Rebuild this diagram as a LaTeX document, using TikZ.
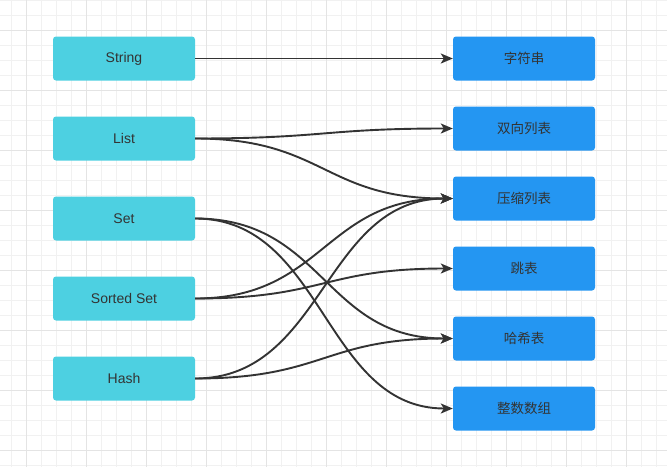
\documentclass[tikz,border=0pt]{standalone}
\usepackage{fontspec}
\setmainfont{Liberation Sans}
\newfontfamily\cjk{Noto Sans CJK SC}
\usetikzlibrary{arrows.meta}
\definecolor{gridminor}{HTML}{F1F1F1}
\definecolor{gridmajor}{HTML}{E4E4E4}
\definecolor{leftfill}{HTML}{4DD0E1}
\definecolor{rightfill}{HTML}{2496F2}
\definecolor{ink}{HTML}{333333}
\tikzset{
  lbox/.style={draw=none, fill=leftfill, rounded corners=3pt, minimum width=142pt, minimum height=44pt, inner sep=0pt, text=ink, font=\fontsize{14}{16}\selectfont},
  rbox/.style={draw=none, fill=rightfill, rounded corners=3pt, minimum width=142pt, minimum height=44pt, inner sep=0pt, text=ink, font=\cjk\fontsize{13.5}{16}\selectfont},
  link/.style={draw=ink, line width=1.9pt, -{Stealth[length=12pt,width=10pt,inset=3pt]}},
  cv/.style={out=0, in=180, distance=129pt}
}
\begin{document}
\begin{tikzpicture}[x=1pt,y=-1pt]
\fill[white] (0,0) rectangle (667,467);
\useasboundingbox (0,0) rectangle (667,467);
% grid
\foreach \i in {0,...,44} {
  \draw[gridminor, line width=0.8pt] ({11+15*\i},0) -- ({11+15*\i},467);
}
\foreach \j in {0,...,31} {
  \draw[gridminor, line width=0.8pt] (0,{15*\j}) -- (667,{15*\j});
}
\foreach \i in {0,...,10} {
  \draw[gridmajor, line width=0.8pt] ({26+60*\i},0) -- ({26+60*\i},467);
}
\foreach \j in {0,...,7} {
  \draw[gridmajor, line width=0.8pt] (0,{30+60*\j}) -- (667,{30+60*\j});
}
% left boxes
\node[lbox] (str)  at (124,58.5)  {String};
\node[lbox] (lst)  at (124,138.5) {List};
\node[lbox] (set)  at (124,218.5) {Set};
\node[lbox] (zset) at (124,298.5) {Sorted Set};
\node[lbox] (hash) at (124,378.5) {Hash};
% right boxes
\node[rbox] (sds)  at (524,58.5)  {字符串};
\node[rbox] (dll)  at (524,128.5) {双向列表};
\node[rbox] (zip)  at (524,198.5) {压缩列表};
\node[rbox] (skip) at (524,268.5) {跳表};
\node[rbox] (ht)   at (524,338.5) {哈希表};
\node[rbox] (ints) at (524,408.5) {整数数组};
% connectors
\draw[link] (str.east) -- (sds.west);
\draw[link] (lst.east) to[cv] (dll.west);
\draw[link] (lst.east) to[cv] (zip.west);
\draw[link] (set.east) to[cv] (ht.west);
\draw[link] (set.east) to[cv] (ints.west);
\draw[link] (zset.east) to[cv] (zip.west);
\draw[link] (zset.east) to[cv] (skip.west);
\draw[link] (hash.east) to[cv] (zip.west);
\draw[link] (hash.east) to[cv] (ht.west);
\end{tikzpicture}
\end{document}
